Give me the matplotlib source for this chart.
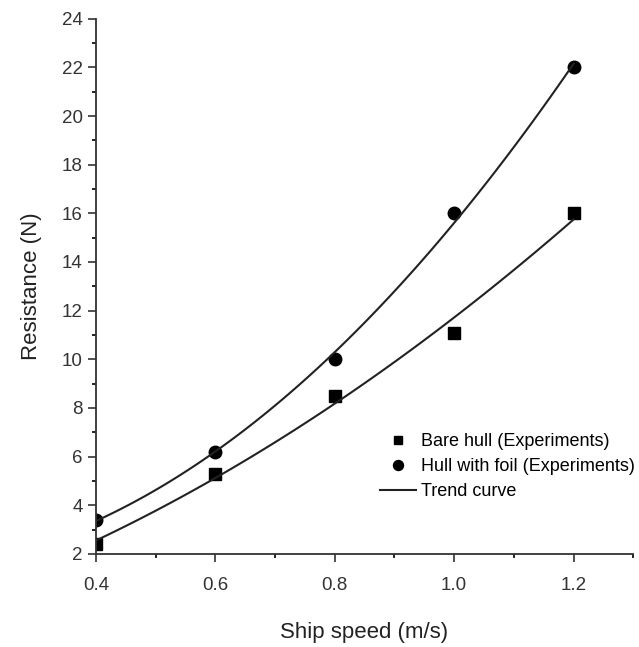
import numpy as np
import matplotlib.pyplot as plt
from matplotlib.ticker import MultipleLocator

plt.rcParams['font.family'] = ['Liberation Sans', 'DejaVu Sans']

speed = [0.4, 0.6, 0.8, 1.0, 1.2]
bare_hull = [2.4, 5.3, 8.5, 11.1, 16.0]
hull_foil = [3.4, 6.2, 10.0, 16.0, 22.0]

# trend curves: quadratic fit through the measured points
xs = np.linspace(0.4, 1.2, 100)
bare_fit = np.polyval(np.polyfit(speed, bare_hull, 2), xs)
foil_fit = np.polyval(np.polyfit(speed, hull_foil, 2), xs)

fig = plt.figure(figsize=(6.39, 6.47), dpi=100)
ax = fig.add_axes([0.150, 0.144, 0.841, 0.827])

ax.plot(speed, bare_hull, 's', color='black', ms=8, label='Bare hull (Experiments)')
ax.plot(speed, hull_foil, 'o', color='black', ms=9, label='Hull with foil (Experiments)')
ax.plot(xs, bare_fit, '-', color='#222222', lw=1.5, label='Trend curve')
ax.plot(xs, foil_fit, '-', color='#222222', lw=1.5)

ax.set_xlim(0.4, 1.3)
ax.set_ylim(2, 24)
ax.xaxis.set_major_locator(MultipleLocator(0.2))
ax.xaxis.set_minor_locator(MultipleLocator(0.1))
ax.yaxis.set_major_locator(MultipleLocator(2))
ax.yaxis.set_minor_locator(MultipleLocator(1))
ax.xaxis.set_major_formatter(plt.FormatStrFormatter('%.1f'))
ax.tick_params(which='major', direction='out', length=6, width=1.2, labelsize=13.5, colors='#333333')
ax.tick_params(axis='x', which='major', pad=11)
ax.tick_params(which='minor', direction='out', length=3, width=1.2)
ax.spines['top'].set_visible(False)
ax.spines['right'].set_visible(False)
for s in ['left', 'bottom']:
    ax.spines[s].set_linewidth(1.3)
    ax.spines[s].set_color('#333333')

ax.set_xlabel('Ship speed (m/s)', fontsize=16, labelpad=20, color='#222222')
ax.set_ylabel('Resistance (N)', fontsize=16, labelpad=14, color='#222222')

ax.legend(loc='upper left', bbox_to_anchor=(0.528, 0.226), frameon=False, fontsize=13,
          handlelength=2.0, handletextpad=0.3, labelspacing=0.45, borderaxespad=0, borderpad=0,
          markerscale=0.8)

fig.savefig('out.png', dpi=100)
